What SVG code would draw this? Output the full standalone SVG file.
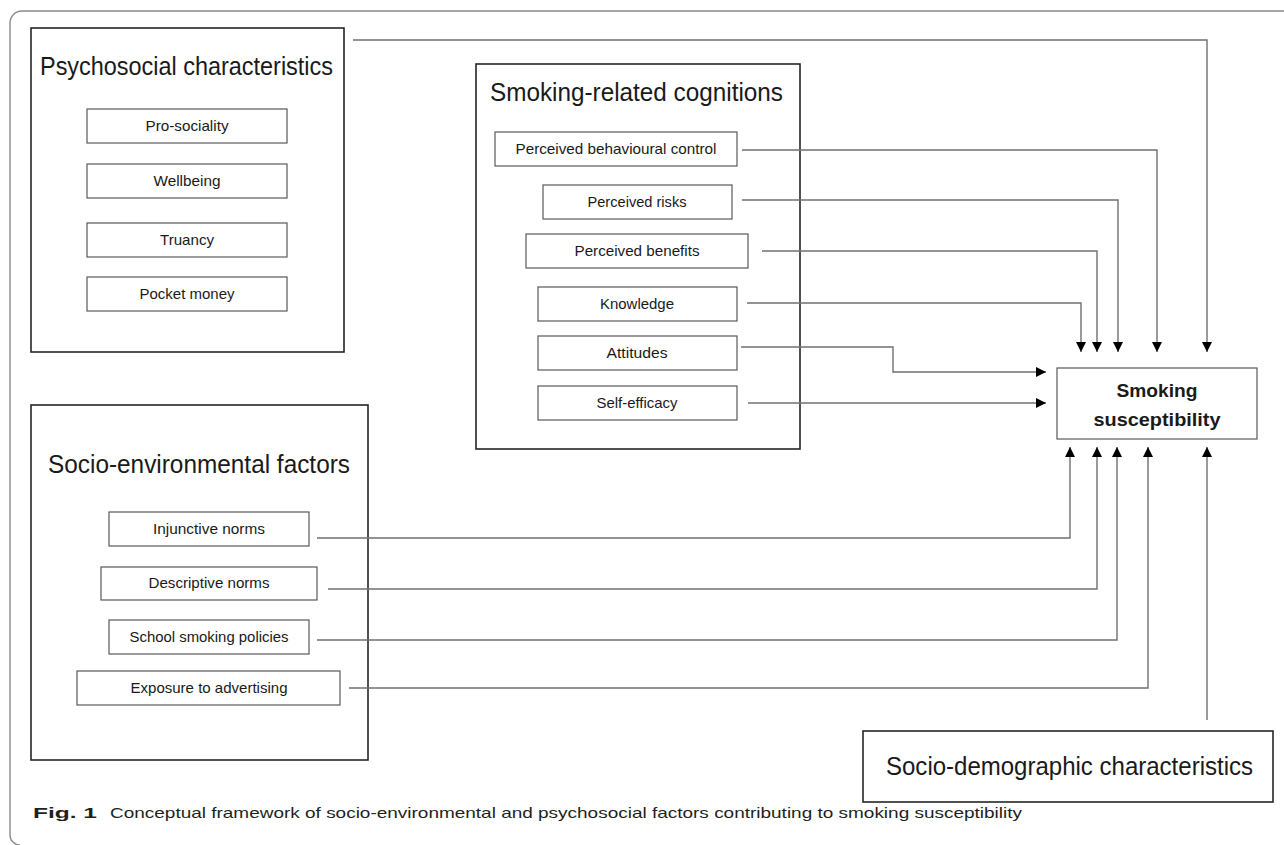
<svg xmlns="http://www.w3.org/2000/svg" width="1284" height="845" viewBox="0 0 1284 845">
<style>
.grp{fill:none;stroke:#262626;stroke-width:1.6}
.item{fill:#fff;stroke:#595959;stroke-width:1.2}
.t{font-family:"Liberation Sans",Arial,sans-serif;fill:#1a1a1a}
.title{font-size:25px}
.lbl{font-size:14.5px;text-anchor:middle}
.ss{font-size:18px;font-weight:bold;text-anchor:middle}
.cn{fill:none;stroke:#707070;stroke-width:1.4}
.frame{fill:none;stroke:#8a8a8a;stroke-width:1.4}
.cap{font-family:"Liberation Sans",Arial,sans-serif;font-size:15px;fill:#231f20}
</style>
<defs>
<marker id="ah" markerUnits="userSpaceOnUse" markerWidth="10" markerHeight="10" viewBox="0 0 10 10" refX="10" refY="5" orient="auto">
<path d="M0,0 L10,5 L0,10 z" fill="#000"/>
</marker>
</defs>
<rect width="1284" height="845" fill="#fff"/>
<path class="frame" d="M1284,11 H22 A12,12 0 0 0 10,23 V835 A10,10 0 0 0 20,845"/>

<g id="psychosocial">
<rect class="grp" x="31" y="28" width="313" height="324"/>
<text class="t title" x="40" y="75" textLength="293" lengthAdjust="spacingAndGlyphs">Psychosocial characteristics</text>
</g>
<g id="pro-sociality"><rect class="item" x="87" y="109" width="200" height="34"/><text class="t lbl" x="187" y="131" textLength="83" lengthAdjust="spacingAndGlyphs">Pro-sociality</text></g>
<g id="wellbeing"><rect class="item" x="87" y="164" width="200" height="34"/><text class="t lbl" x="187" y="186" textLength="67" lengthAdjust="spacingAndGlyphs">Wellbeing</text></g>
<g id="truancy"><rect class="item" x="87" y="223" width="200" height="34"/><text class="t lbl" x="187" y="245" textLength="54" lengthAdjust="spacingAndGlyphs">Truancy</text></g>
<g id="pocket-money"><rect class="item" x="87" y="277" width="200" height="34"/><text class="t lbl" x="187" y="299" textLength="95" lengthAdjust="spacingAndGlyphs">Pocket money</text></g>

<g id="cognitions">
<rect class="grp" x="476" y="64" width="324" height="385"/>
<text class="t title" x="490" y="101" textLength="293" lengthAdjust="spacingAndGlyphs">Smoking-related cognitions</text>
</g>
<g id="pbc"><rect class="item" x="495" y="132" width="242" height="34"/><text class="t lbl" x="616" y="154" textLength="201" lengthAdjust="spacingAndGlyphs">Perceived behavioural control</text></g>
<g id="risks"><rect class="item" x="543" y="185" width="189" height="34"/><text class="t lbl" x="637" y="207" textLength="99" lengthAdjust="spacingAndGlyphs">Perceived risks</text></g>
<g id="benefits"><rect class="item" x="526" y="234" width="222" height="34"/><text class="t lbl" x="637" y="256" textLength="125" lengthAdjust="spacingAndGlyphs">Perceived benefits</text></g>
<g id="knowledge"><rect class="item" x="538" y="287" width="199" height="34"/><text class="t lbl" x="637" y="309" textLength="74" lengthAdjust="spacingAndGlyphs">Knowledge</text></g>
<g id="attitudes"><rect class="item" x="538" y="336" width="199" height="34"/><text class="t lbl" x="637" y="358" textLength="61" lengthAdjust="spacingAndGlyphs">Attitudes</text></g>
<g id="self-efficacy"><rect class="item" x="538" y="386" width="199" height="34"/><text class="t lbl" x="637" y="408" textLength="81" lengthAdjust="spacingAndGlyphs">Self-efficacy</text></g>

<g id="socio-environmental">
<rect class="grp" x="31" y="405" width="337" height="355"/>
<text class="t title" x="48" y="473" textLength="302" lengthAdjust="spacingAndGlyphs">Socio-environmental factors</text>
</g>
<g id="injunctive"><rect class="item" x="109" y="512" width="200" height="34"/><text class="t lbl" x="209" y="534" textLength="112" lengthAdjust="spacingAndGlyphs">Injunctive norms</text></g>
<g id="descriptive"><rect class="item" x="101" y="567" width="216" height="33"/><text class="t lbl" x="209" y="588" textLength="121" lengthAdjust="spacingAndGlyphs">Descriptive norms</text></g>
<g id="school"><rect class="item" x="109" y="620" width="200" height="34"/><text class="t lbl" x="209" y="642" textLength="159" lengthAdjust="spacingAndGlyphs">School smoking policies</text></g>
<g id="exposure"><rect class="item" x="77" y="671" width="263" height="34"/><text class="t lbl" x="209" y="693" textLength="157" lengthAdjust="spacingAndGlyphs">Exposure to advertising</text></g>

<g id="susceptibility">
<rect class="item" x="1057" y="368" width="200" height="71"/>
<text class="t ss" x="1157" y="397" textLength="81" lengthAdjust="spacingAndGlyphs">Smoking</text>
<text class="t ss" x="1157" y="426" textLength="127" lengthAdjust="spacingAndGlyphs">susceptibility</text>
</g>

<g id="socio-demographic">
<rect class="grp" x="863" y="731" width="410" height="71"/>
<text class="t title" x="886" y="775" textLength="367" lengthAdjust="spacingAndGlyphs">Socio-demographic characteristics</text>
</g>

<g id="connectors">
<path class="cn" d="M353,40 H1207 V352" marker-end="url(#ah)"/>
<path class="cn" d="M742,150 H1157 V352" marker-end="url(#ah)"/>
<path class="cn" d="M742,200 H1118 V352" marker-end="url(#ah)"/>
<path class="cn" d="M762,251 H1097 V352" marker-end="url(#ah)"/>
<path class="cn" d="M747,303 H1081 V352" marker-end="url(#ah)"/>
<path class="cn" d="M741,347 H893 V372 H1046" marker-end="url(#ah)"/>
<path class="cn" d="M748,403 H1046" marker-end="url(#ah)"/>
<path class="cn" d="M317,538 H1070 V447" marker-end="url(#ah)"/>
<path class="cn" d="M328,589 H1097 V447" marker-end="url(#ah)"/>
<path class="cn" d="M317,640 H1117 V447" marker-end="url(#ah)"/>
<path class="cn" d="M349,688 H1148 V447" marker-end="url(#ah)"/>
<path class="cn" d="M1207,720 V447" marker-end="url(#ah)"/>
</g>

<g id="caption">
<text class="cap" x="33" y="818" font-weight="bold" textLength="64" lengthAdjust="spacingAndGlyphs">Fig. 1</text>
<text class="cap" x="110" y="818" textLength="912" lengthAdjust="spacingAndGlyphs">Conceptual framework of socio-environmental and psychosocial factors contributing to smoking susceptibility</text>
</g>
</svg>
